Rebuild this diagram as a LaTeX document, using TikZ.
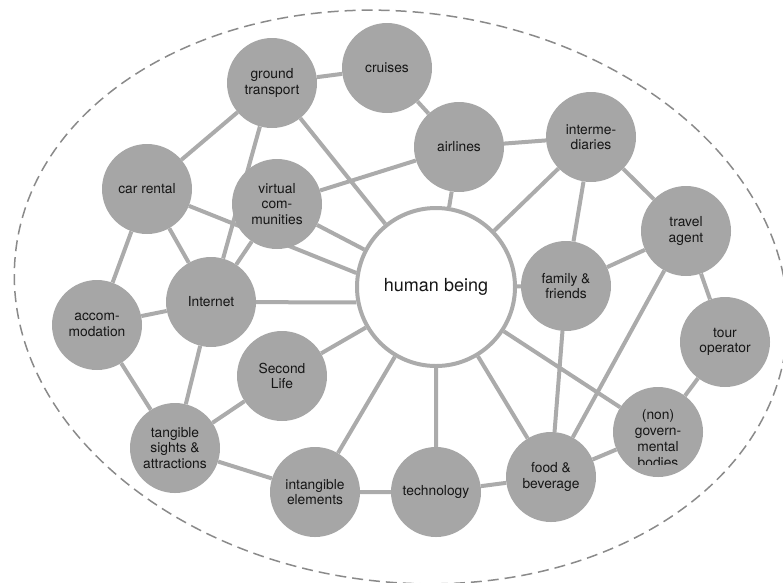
\documentclass[tikz,border=0pt]{standalone}
\usepackage{fontspec}
\setmainfont{TeX Gyre Heros}
\usetikzlibrary{backgrounds}
\definecolor{nodegray}{HTML}{A6A6A6}
\definecolor{linkgray}{HTML}{ABABAB}
\definecolor{dashgray}{HTML}{8A8A8A}
\definecolor{textdark}{HTML}{161616}
\begin{document}
\begin{tikzpicture}[x=1pt,y=-1pt,
  topic/.style={circle,fill=nodegray,minimum size=90pt,inner sep=0pt,align=center,
    font=\fontsize{13.8}{15.5}\selectfont,text=textdark},
  topictext/.style={inner sep=0pt,align=center,font=\fontsize{13.8}{16}\selectfont,text=textdark},
  hub/.style={circle,draw=linkgray,line width=4pt,fill=white,minimum size=158pt,inner sep=0pt,
    font=\fontsize{18}{21}\selectfont,text=textdark},
  link/.style={draw=linkgray,line width=4pt},
  boundary/.style={draw=dashgray,line width=1.5pt,dash pattern=on 11pt off 6pt}]
\useasboundingbox (0,0) rectangle (783,582);

% central actor
\node[hub] (hb) at (436,287) {human being};

% surrounding actors
\node[topic] (gt) at (272,83)  {ground\\transport};
\node[topic] (cr) at (387,68)  {cruises};
\node[topic] (al) at (459,147) {airlines};
\node[topic] (im) at (591,137) {interme-\\diaries};
\node[topic] (ta) at (686,231) {travel\\agent};
\node[topic] (ff) at (566,286) {family \&\\friends};
\node[topic] (to) at (725,342) {tour\\operator};
\node[topic] (ng) at (658,432) {};
% the last line of this label is cut off by its text box
\begin{scope}
  \clip (605,380) rectangle (711,464.5);
  \node[topictext] (ngtext) at (658,439) {(non)\\govern-\\mental\\bodies};
\end{scope}
\node[topic] (fb) at (551,477) {food \&\\beverage};
\node[topic] (te) at (436,492) {technology};
\node[topic] (ie) at (315,492) {intangible\\elements};
\node[topic] (ts) at (175,448) {tangible\\sights \&\\attractions};
\node[topic] (sl) at (282,376) {Second\\Life};
\node[topic] (ac) at (97,325)  {accom-\\modation};
\node[topic] (in) at (211,302) {Internet};
\node[topic] (ca) at (147,189) {car rental};
\node[topic] (vc) at (277,204) {virtual\\com-\\munities};

\begin{scope}[on background layer]
  % outer boundary of the system
  \draw[boundary,rotate around={-7:(401,297)}] (401,297) ellipse [x radius=388pt, y radius=285pt];
  % relations
  \path[link]
    (gt) -- (cr)
    (gt) -- (ca)
    (gt) -- (in)
    (gt) -- (hb)
    (vc) -- (al)
    (ca) -- (hb.170)
    (ca) -- (ac)
    (ca) -- (in)
    (vc) -- (in)
    (vc) -- (hb)
    (in) -- (hb.191)
    (in) -- (ac)
    (in) -- (ts)
    (ac) -- (ts)
    (ts) -- (sl)
    (ts) -- (ie)
    (sl) -- (hb)
    (ie) -- (hb)
    (ie) -- (te)
    (te) -- (hb)
    (te) -- (fb)
    (fb) -- (hb)
    (fb) -- (ff)
    (fb) -- (ta)
    (fb) -- (ng)
    (ng) -- (hb)
    (ng) -- (to)
    (to) -- (ta)
    (ta) -- (ff)
    (ta) -- (im)
    (im) -- (ff)
    (im) -- (hb)
    (im) -- (al)
    (al) -- (hb)
    (al) -- (cr)
    (ff) -- (hb);
\end{scope}
\end{tikzpicture}
\end{document}
